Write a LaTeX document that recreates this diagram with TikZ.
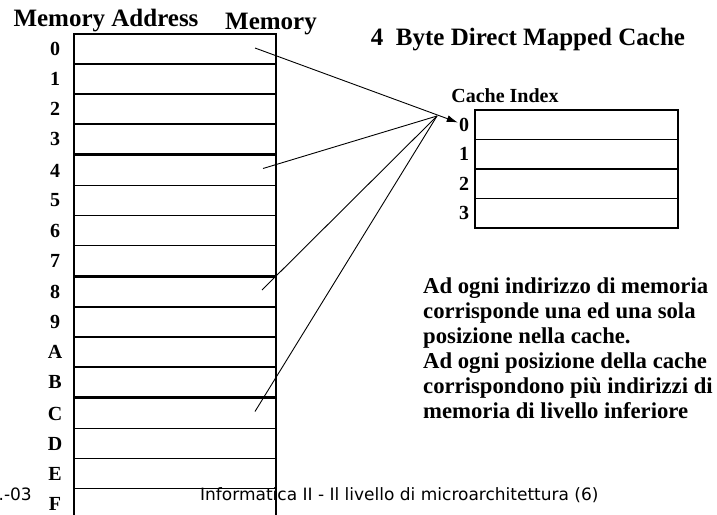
\documentclass[tikz,border=0pt]{standalone}
\usepackage{fontspec}
\setmainfont{Liberation Serif}
\newfontfamily\footfont{DejaVu Sans}
\usetikzlibrary{calc,positioning,arrows.meta}
\tikzset{cell/.style={draw,line width=1.8pt,minimum width=202pt,minimum
height=30pt,inner sep=0pt,outer sep=0pt},lbl/.style={font=\fontsize{20}{24}\selectfont\bfseries,
inner sep=1pt},head/.style={font=\fontsize{25}{29}\selectfont\bfseries,inner sep=0pt}}
\tikzstyle{link}      = [line width=0.9pt]
\tikzstyle{foot}      = [inner sep=0pt, font=\footfont\fontsize{17}{20}\selectfont]

\begin{document}
\begin{tikzpicture}[x=1pt,y=-1pt]
		\useasboundingbox (0,0) rectangle (717,514);
		\foreach \t[count=\i from 0,evaluate=\i as \y using {49+1.5*int(\i/4)+30*\i}] in {
				0,1,2,3,4,5,6,7,8,9,A,B,C,D,E,F
			}
		\node[cell](m\i) at (175,\y){}
		node[lbl] at([xshift=-19pt]m\i.west){\t};

		\foreach \i in {0,...,3}
		\node[cell,minimum width=203pt,minimum height=29.5pt](c\i) at (576.5,{124.75+29.5*\i}){}
		node[lbl](ci\i) at([xshift=-11pt]c\i.west){\i};

		\node[head,anchor=base](addr) at (106,27){Memory Address};
		\node[head,anchor=base](mem) at (271,29){Memory};
		\node[head,anchor=base](title) at (528,45){4\ \ Byte Direct Mapped Cache};
		\node[lbl,anchor=base](idx) at (505,102){Cache Index};

		\node[anchor=base west,align=left,inner sep=0pt,font=\fontsize{22.7}{25}\selectfont\bfseries](note) at (423,418){
			Ad ogni indirizzo di memoria\\
			corrisponde una ed una sola\\
			posizione nella cache.\\
			Ad ogni posizione della cache\\
			corrispondono più indirizzi di\\
			memoria di livello inferiore};

		\node[foot,anchor=base east](date) at (32,500){.-03};
		\node[foot,anchor=base west](slide) at (200,500){Informatica II - Il livello di microarchitettura (6)};

		\coordinate (s0) at ([xshift=80pt,yshift=1pt]m0.center);
		\coordinate (hub) at (437,116);
		\draw[link,-{Latex[length=11pt,width=7pt]}] (s0) -- (ci0);
		\foreach \k/\dx in {4/88,8/87,12/80}
		\draw[link] ([xshift=\dx pt,yshift=2pt]m\k.center) -- (hub);
	\end{tikzpicture}
\end{document}
